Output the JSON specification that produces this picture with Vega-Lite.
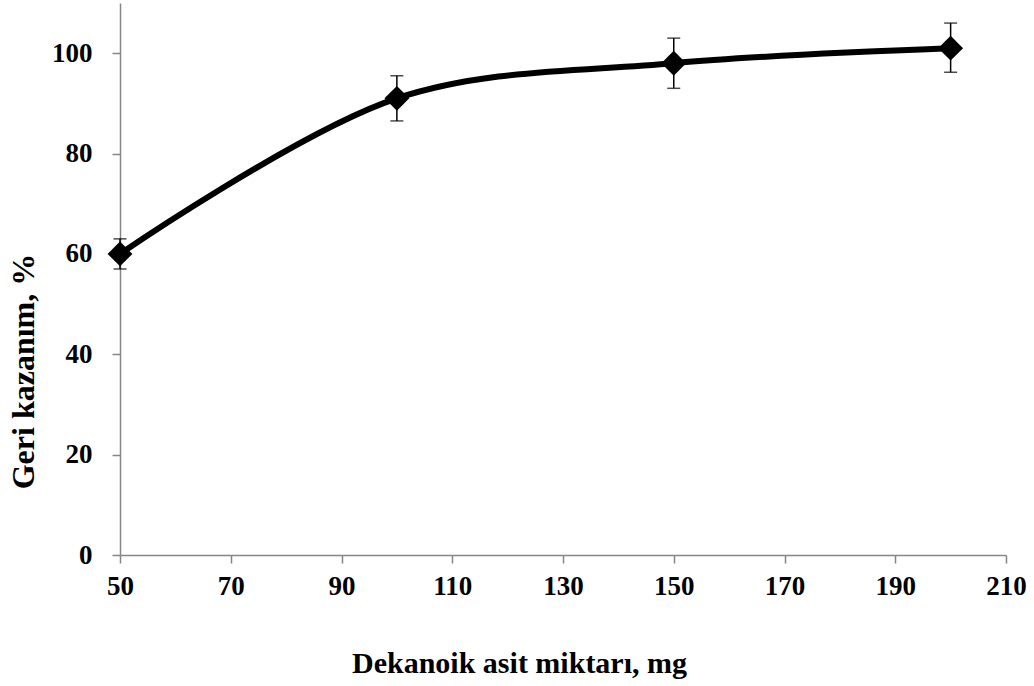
{
  "$schema": "https://vega.github.io/schema/vega-lite/v6.json",
  "width": 886,
  "height": 552,
  "autosize": {"type": "none"},
  "padding": {"left": 120, "top": 3, "right": 28, "bottom": 131},
  "background": "white",
  "config": {
    "view": {"stroke": null},
    "font": "Liberation Serif",
    "axis": {
      "grid": false,
      "domainColor": "#868686",
      "domainWidth": 1.5,
      "tickColor": "#868686",
      "tickWidth": 1.5,
      "tickSize": 8,
      "labelFont": "Liberation Serif",
      "labelFontWeight": "bold",
      "labelFontSize": 27,
      "labelColor": "black",
      "labelFlush": false,
      "labelOverlap": false,
      "titleFont": "Liberation Serif",
      "titleFontWeight": "bold",
      "titleColor": "black"
    }
  },
  "data": {
    "values": [
      {"mg": 50, "recovery": 60, "lo": 57, "hi": 63},
      {"mg": 100, "recovery": 91, "lo": 86.5, "hi": 95.5},
      {"mg": 150, "recovery": 98, "lo": 93, "hi": 103},
      {"mg": 200, "recovery": 101, "lo": 96.2, "hi": 106}
    ]
  },
  "encoding": {
    "x": {
      "field": "mg",
      "type": "quantitative",
      "scale": {"domain": [50, 210], "nice": false, "zero": false},
      "axis": {
        "values": [50, 70, 90, 110, 130, 150, 170, 190, 210],
        "labelPadding": 10,
        "title": "Dekanoik asit miktarı, mg",
        "titleFontSize": 30,
        "titleX": 399,
        "titleY": 117,
        "titleAnchor": "middle",
        "titleBaseline": "alphabetic"
      }
    }
  },
  "layer": [
    {
      "mark": {"type": "rule", "color": "black", "strokeWidth": 1.5},
      "encoding": {
        "y": {
          "field": "lo",
          "type": "quantitative",
          "scale": {"domain": [0, 110], "nice": false},
          "axis": {
            "values": [0, 20, 40, 60, 80, 100],
            "labelPadding": 20,
            "title": "Geri kazanım, %",
            "titleFontSize": 32,
            "titleX": -87,
            "titleY": 368,
            "titleAnchor": "middle",
            "titleAngle": -90,
            "titleBaseline": "alphabetic"
          }
        },
        "y2": {"field": "hi"}
      }
    },
    {
      "mark": {"type": "tick", "orient": "horizontal", "color": "black", "size": 13, "thickness": 1.5},
      "encoding": {"y": {"field": "lo", "type": "quantitative"}}
    },
    {
      "mark": {"type": "tick", "orient": "horizontal", "color": "black", "size": 13, "thickness": 1.5},
      "encoding": {"y": {"field": "hi", "type": "quantitative"}}
    },
    {
      "mark": {"type": "line", "color": "black", "strokeWidth": 6, "interpolate": "catmull-rom"},
      "encoding": {"y": {"field": "recovery", "type": "quantitative"}}
    },
    {
      "mark": {"type": "point", "shape": "diamond", "filled": true, "color": "black", "opacity": 1, "size": 620},
      "encoding": {"y": {"field": "recovery", "type": "quantitative"}}
    }
  ]
}
